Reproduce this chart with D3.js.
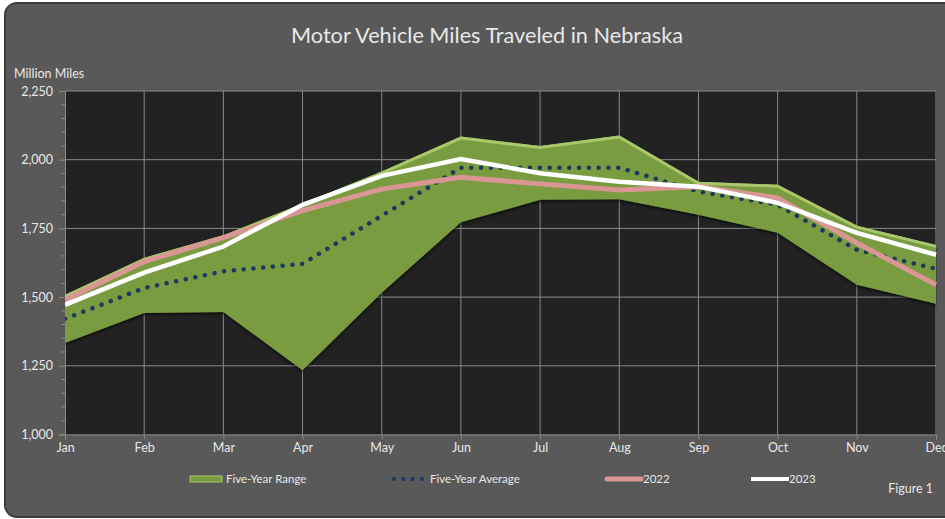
<!DOCTYPE html>
<html><head><meta charset="utf-8">
<script src="https://cdn.jsdelivr.net/npm/d3@7"></script>
<style>body{margin:0;background:#fff;} svg{display:block;font-family:Lato,"Open Sans",sans-serif;}</style>
</head><body>
<svg id="c" width="945" height="519"></svg>
<script>
const months = ["Jan","Feb","Mar","Apr","May","Jun","Jul","Aug","Sep","Oct","Nov","Dec"];
const rangeHigh = [1508, 1643, 1725, 1840, 1957, 2084, 2050, 2088, 1920, 1909, 1760, 1690];
const rangeLow  = [1333, 1442, 1446, 1234, 1516, 1772, 1854, 1856, 1800, 1734, 1545, 1476];
const avg5      = [1421, 1533, 1594, 1621, 1796, 1971, 1971, 1971, 1884, 1836, 1672, 1603];
const y2022     = [1490, 1629, 1716, 1815, 1893, 1936, 1912, 1890, 1902, 1861, 1697, 1545];
const y2023     = [1472, 1589, 1684, 1836, 1941, 2002, 1951, 1920, 1902, 1843, 1734, 1654];
const yTicks = [1000, 1250, 1500, 1750, 2000, 2250];

const svg = d3.select("#c");
const txt = "#e8e8e8";
// frame
svg.append("rect").attr("x",5).attr("y",3).attr("width",960).attr("height",514).attr("rx",12)
  .attr("fill","#595959").attr("stroke","#3c3c3c").attr("stroke-width",2);

const L=65, R=936, T=91, B=434.5;
const x = d3.scalePoint().domain(months).range([L,R]);
const y = d3.scaleLinear().domain([1000,2250]).range([B,T]);

svg.append("rect").attr("x",L).attr("y",T).attr("width",R-L+1).attr("height",B-T).attr("fill","#222222");

// grid
svg.append("g").selectAll("line").data(yTicks.slice(1)).join("line")
  .attr("x1",L).attr("x2",R).attr("y1",d=>y(d)).attr("y2",d=>y(d)).attr("stroke","#8a8a8a").attr("stroke-width",1);
svg.append("g").selectAll("line").data(months.slice(1)).join("line")
  .attr("x1",d=>x(d)).attr("x2",d=>x(d)).attr("y1",T).attr("y2",B).attr("stroke","#8a8a8a").attr("stroke-width",1);

// axes
const yAxis = d3.axisLeft(y).tickValues(yTicks).tickFormat(d3.format(",")).tickSize(6).tickPadding(6);
const gy = svg.append("g").attr("transform",`translate(${L},0)`).call(yAxis);
gy.select(".domain").attr("stroke","#8a8a8a");
gy.selectAll(".tick line").attr("stroke","#8a8a8a");
gy.selectAll("text").attr("fill",txt).attr("font-size",12.5).attr("font-family","Lato,sans-serif");
const minor = d3.range(1000,2251,50).filter(v=>v%250!==0);
svg.append("g").selectAll("line").data(minor).join("line")
  .attr("x1",L-4).attr("x2",L).attr("y1",d=>y(d)).attr("y2",d=>y(d)).attr("stroke","#8a8a8a");

const xAxis = d3.axisBottom(x).tickSize(5).tickPadding(4);
const gx = svg.append("g").attr("transform",`translate(0,${B})`).call(xAxis);
gx.select(".domain").attr("stroke","#8a8a8a");
gx.selectAll(".tick line").attr("stroke","#8a8a8a");
gx.selectAll("text").attr("fill",txt).attr("font-size",12.5).attr("font-family","Lato,sans-serif");

// defs
const defs = svg.append("defs");
const flt = defs.append("filter").attr("id","bev").attr("x","-5%").attr("y","-5%").attr("width","110%").attr("height","110%");
flt.append("feGaussianBlur").attr("in","SourceAlpha").attr("stdDeviation",1.5).attr("result","b");
flt.append("feOffset").attr("in","b").attr("dy",1.5).attr("result","o");
flt.append("feFlood").attr("flood-color","#000").attr("flood-opacity",0.6);
flt.append("feComposite").attr("in2","o").attr("operator","in").attr("result","s");
const fm = flt.append("feMerge"); fm.append("feMergeNode").attr("in","s"); fm.append("feMergeNode").attr("in","SourceGraphic");
svg.append("clipPath").attr("id","pc").append("rect").attr("x",L).attr("y",T).attr("width",R-L+1).attr("height",B-T);

const plot = svg.append("g").attr("clip-path","url(#pc)");
const idx = d3.range(months.length);
const area = d3.area().x(i=>x(months[i])).y0(i=>y(rangeLow[i])).y1(i=>y(rangeHigh[i]));
plot.append("path").datum(idx).attr("d",area).attr("fill","#7a9c40").attr("filter","url(#bev)");
plot.append("path").datum(idx).attr("d",d3.line().x(i=>x(months[i])).y(i=>y(rangeHigh[i])+1.5))
  .attr("fill","none").attr("stroke","#a9c76b").attr("stroke-width",3);

const line = arr => d3.line().x(i=>x(months[i])).y(i=>y(arr[i]));
plot.append("path").datum(idx).attr("d",line(avg5)).attr("fill","none").attr("stroke","#1c3a5e")
  .attr("stroke-width",4.5).attr("stroke-linecap","round").attr("stroke-dasharray","0.1 9.7");
plot.append("path").datum(idx).attr("d",line(y2022)).attr("fill","none").attr("stroke","#d99694").attr("stroke-width",5);
plot.append("path").datum(idx).attr("d",line(y2023)).attr("fill","none").attr("stroke","#ffffff").attr("stroke-width",4.5);

// titles
svg.append("text").attr("x",487).attr("y",43).attr("text-anchor","middle").attr("fill",txt)
  .attr("font-size",22).attr("textLength",392).attr("lengthAdjust","spacingAndGlyphs").text("Motor Vehicle Miles Traveled in Nebraska");
svg.append("text").attr("x",14).attr("y",78).attr("fill",txt).attr("font-size",12.5).text("Million Miles");
svg.append("text").attr("x",933).attr("y",493).attr("text-anchor","end").attr("fill",txt).attr("font-size",12.5).text("Figure 1");

// legend
const ly = 479;
const lg = svg.append("g").attr("font-size",11.5).attr("fill",txt);
lg.append("rect").attr("x",190).attr("y",ly-3).attr("width",32).attr("height",6).attr("fill","#7a9c40").attr("stroke","#a9c76b").attr("stroke-width",1);
lg.append("text").attr("x",226).attr("y",ly+4).attr("fill",txt).text("Five-Year Range");
lg.selectAll("circle").data([0,1,2,3]).join("circle").attr("cx",d=>394+d*9.3).attr("cy",ly).attr("r",2.2).attr("fill","#1c3a5e");
lg.append("text").attr("x",430).attr("y",ly+4).attr("fill",txt).text("Five-Year Average");
lg.append("line").attr("x1",607).attr("x2",641).attr("y1",ly).attr("y2",ly).attr("stroke","#d99694").attr("stroke-width",5).attr("stroke-linecap","round");
lg.append("text").attr("x",643).attr("y",ly+4).attr("fill",txt).text("2022");
lg.append("line").attr("x1",751).attr("x2",789).attr("y1",ly).attr("y2",ly).attr("stroke","#fff").attr("stroke-width",4);
lg.append("text").attr("x",789).attr("y",ly+4).attr("fill",txt).text("2023");
</script>
</body></html>
